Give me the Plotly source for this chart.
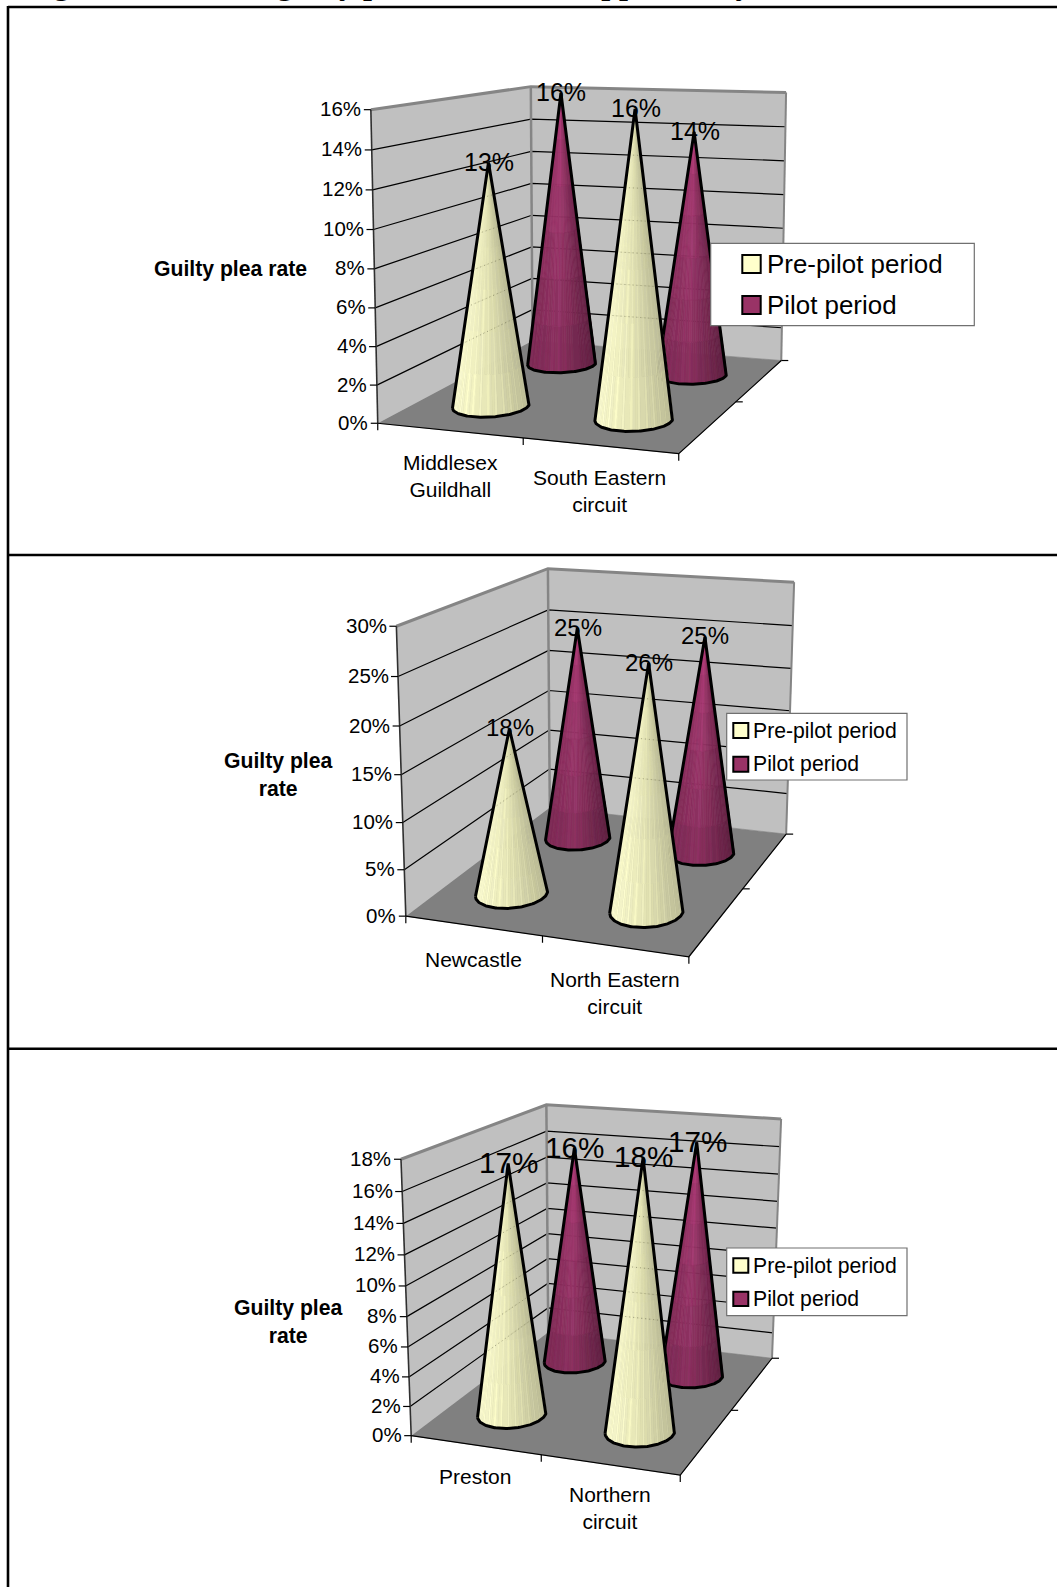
import numpy as np
import plotly.graph_objects as go

# ---- chart values (percent) ----
series_names = ["Pre-pilot period", "Pilot period"]

categories_a = ["Middlesex<br>Guildhall", "South Eastern<br>circuit"]
pre_pilot_a = [13, 16]
pilot_a = [16, 14]
ticks_a = [0, 2, 4, 6, 8, 10, 12, 14, 16]

categories_b = ["Newcastle", "North Eastern<br>circuit"]
pre_pilot_b = [18, 26]
pilot_b = [25, 25]
ticks_b = [0, 5, 10, 15, 20, 25, 30]

categories_c = ["Preston", "Northern<br>circuit"]
pre_pilot_c = [17, 18]
pilot_c = [16, 17]
ticks_c = [0, 2, 4, 6, 8, 10, 12, 14, 16, 18]

heading = "Figure 4: Rates of guilty pleas at the six supported by"
axis_title_a = "Guilty plea rate"
axis_title_wrapped = "Guilty plea<br>rate"

# ---- page layout ----
PAGE_W, PAGE_H = 1057, 1587
SANS = "Liberation Sans"
SERIF = "Liberation Serif"
WALL, FLOOR, EDGE = "#C0C0C0", "#808080", "#858585"
CREAM, PLUM = "#FFFFCC", "#993366"

# Screen anchors of the 3-D box corners, keyed by (category, depth, height) in unit box coordinates.
BOX_UNIT = [(0, 0, 0), (1, 0, 0), (1, 1, 0), (0, 1, 0), (0, 0, 1), (0, 1, 1), (1, 1, 1)]

panels = [
    dict(
        cats=categories_a, pre=pre_pilot_a, pilot=pilot_a, ticks=ticks_a,
        box=[(378.3, 423.3), (678.3, 454), (781.7, 360), (532, 341),
             (370.7, 109.3), (531, 86.7), (786, 92.7)],
        cat_pos=[(450, 475.5), (599.5, 490.5)],
        title=axis_title_a, title_pos=(230.8, 269),
        legend=dict(box=(710.7, 243.3, 974.3, 325.7), sw_x=(742.3, 760.7),
                    sw_y=[(255, 273), (296, 314)], text_x=766, text_y=[264, 304.5], size=25.9),
        label_size=25,
    ),
    dict(
        cats=categories_b, pre=pre_pilot_b, pilot=pilot_b, ticks=ticks_b,
        box=[(406.7, 916.7), (688.3, 956.7), (786.7, 834), (549, 807.3),
             (396, 625.7), (548.3, 569), (794, 582.3)],
        cat_pos=[(473.9, 959), (614.6, 992.7)],
        title=axis_title_wrapped, title_pos=(278, 774),
        legend=dict(box=(726.7, 713.3, 907, 780), sw_x=(733.3, 748.3),
                    sw_y=[(723, 738), (756.7, 771.7)], text_x=752, text_y=[730.5, 764], size=21.2),
        label_size=24,
    ),
    dict(
        cats=categories_c, pre=pre_pilot_c, pilot=pilot_c, ticks=ticks_c,
        box=[(411.7, 1436), (680, 1475), (772.3, 1358.3), (547.7, 1332),
             (400.7, 1159), (546.7, 1105), (781, 1119)],
        cat_pos=[(475.4, 1476.3), (609.5, 1508)],
        title=axis_title_wrapped, title_pos=(288, 1321),
        legend=dict(box=(726.7, 1248, 907, 1315.7), sw_x=(733.3, 748.3),
                    sw_y=[(1258.3, 1272.7), (1291.7, 1306)], text_x=752, text_y=[1265.5, 1299], size=21.2),
        label_size=29.7,
    ),
]

CENTRES = (0.25, 0.75)
RADIUS_X, RADIUS_Y = 0.122, 0.115


def fit_projection(screen):
    """Direct linear fit of a pinhole camera from box corners to page pixels."""
    rows = []
    for (X, Y, Z), (u, v) in zip(BOX_UNIT, screen):
        rows.append([X, Y, Z, 1, 0, 0, 0, 0, -u * X, -u * Y, -u * Z, -u])
        rows.append([0, 0, 0, 0, X, Y, Z, 1, -v * X, -v * Y, -v * Z, -v])
    return np.linalg.svd(np.array(rows, float))[2][-1].reshape(3, 4)


def project(cam, x, y, z):
    h = cam @ np.array([x, y, z, 1.0])
    return h[0] / h[2], h[1] / h[2]


def hull(points):
    """Monotone-chain convex hull, returned in drawing order."""
    pts = sorted(set(points))
    def half(seq):
        out = []
        for p in seq:
            while len(out) > 1 and (out[-1][0]-out[-2][0])*(p[1]-out[-2][1]) - (out[-1][1]-out[-2][1])*(p[0]-out[-2][0]) <= 0:
                out.pop()
            out.append(p)
        return out[:-1]
    return half(pts) + half(pts[::-1])


def clip_segment(a, b, poly):
    """Part of segment a-b inside a convex polygon, or None."""
    a, b = np.array(a), np.array(b)
    d = b - a
    t0, t1 = 0.0, 1.0
    area = sum(poly[i][0] * poly[(i + 1) % len(poly)][1] - poly[(i + 1) % len(poly)][0] * poly[i][1]
               for i in range(len(poly)))
    sign = 1 if area > 0 else -1
    for i in range(len(poly)):
        p, q = np.array(poly[i]), np.array(poly[(i + 1) % len(poly)])
        n = sign * np.array([-(q - p)[1], (q - p)[0]])
        num, den = n @ (a - p), n @ d
        if abs(den) < 1e-9:
            if num < 0:
                return None
        elif den > 0:
            t0 = max(t0, -num / den)
        else:
            t1 = min(t1, -num / den)
    return (tuple(a + d * t0), tuple(a + d * t1)) if t0 < t1 else None


def mix(a, b, t):
    return a + (b - a) * t


def polyline(fig, pts, color, width, dash="solid"):
    fig.add_trace(go.Scatter(x=[p[0] if p else None for p in pts], y=[p[1] if p else None for p in pts],
                             mode="lines", line=dict(color=color, width=width, dash=dash),
                             hoverinfo="skip", showlegend=False))


def polygon(fig, pts, color):
    fig.add_trace(go.Scatter(x=[p[0] for p in pts], y=[p[1] for p in pts], mode="lines", fill="toself",
                             fillcolor=color, line=dict(color=color, width=0.6),
                             hoverinfo="skip", showlegend=False))


SHADES = {
    # (left, centre, right) RGB across the cone, plus brightness from tip to base
    CREAM: (np.array([252, 252, 206.]), np.array([230, 230, 182.]), np.array([188, 188, 150.]), 0.96, 1.0),
    PLUM: (np.array([136, 44, 92.]), np.array([152, 52, 104.]), np.array([104, 34, 70.]), 1.12, 0.88),
}


def add_cone(fig, cam, x, y, height, base_color, grid_segments):
    angles = np.linspace(0, 2 * np.pi, 181)[:-1]
    rim = [project(cam, x + RADIUS_X * np.cos(a), y + RADIUS_Y * np.sin(a), 0) for a in angles]
    tip = project(cam, x, y, height)
    outline = hull(rim + [tip])
    i = outline.index(tip)
    arc = outline[i + 1:] + outline[:i]
    if arc[0][0] > arc[-1][0]:
        arc = arc[::-1]
    arc = arc[::2] + ([arc[-1]] if len(arc) % 2 == 0 else [])

    left, mid, right, tip_gain, base_gain = SHADES[base_color]
    xl, xr = arc[0][0], arc[-1][0]
    groups = {}
    bands = 6
    for s in range(len(arc) - 1):
        p, q = arc[s], arc[s + 1]
        u = ((p[0] + q[0]) / 2 - xl) / (xr - xl)
        col = mix(left, mid, u / 0.45) if u < 0.45 else mix(mid, right, (u - 0.45) / 0.55)
        ripple = 1.05 if s % 3 == 0 else 1.0
        for b in range(bands):
            t0, t1 = b / bands, (b + 1) / bands
            gain = mix(tip_gain, base_gain, (t0 + t1) / 2) * ripple
            rgb = np.clip(np.round(col * gain / 4) * 4, 0, 255).astype(int)
            quad = [mix(np.array(tip), np.array(r), t) for r, t in ((p, t0), (q, t0), (q, t1), (p, t1))]
            groups.setdefault(tuple(rgb), []).append(quad)
    for rgb, quads in groups.items():
        xs, ys = [], []
        for quad in quads:
            xs += [c[0] for c in quad] + [quad[0][0], None]
            ys += [c[1] for c in quad] + [quad[0][1], None]
        color = "rgb(%d,%d,%d)" % rgb
        fig.add_trace(go.Scatter(x=xs, y=ys, mode="lines", fill="toself", fillcolor=color,
                                 line=dict(color=color, width=0.6), hoverinfo="skip", showlegend=False))
    # gridlines faintly showing through the pale cones
    if base_color == CREAM:
        ghost = []
        for a, b in grid_segments:
            part = clip_segment(a, b, outline)
            if part:
                ghost += [part[0], part[1], None]
        if ghost:
            polyline(fig, ghost, "rgba(110,110,80,0.55)", 1, dash="1px,3px")
    polyline(fig, outline + [outline[0]], "black", 3)
    return tip


def text(ann, x, y, s, size, anchor="center", bold=False):
    ann.append(dict(x=x, y=y, xref="x", yref="y", text=f"<b>{s}</b>" if bold else s, showarrow=False,
                    xanchor=anchor, yanchor="middle", align="center",
                    font=dict(family=SANS, size=size, color="black"), borderpad=0))


fig = go.Figure()
annotations, shapes = [], []

for panel in panels:
    cam = fit_projection(panel["box"])
    ticks = panel["ticks"]
    top = ticks[-1]
    corner = lambda x, y, v: project(cam, x, y, v / top)

    # walls and floor
    polygon(fig, [corner(0, 0, 0), corner(0, 1, 0), corner(0, 1, top), corner(0, 0, top)], WALL)
    polygon(fig, [corner(0, 1, 0), corner(1, 1, 0), corner(1, 1, top), corner(0, 1, top)], WALL)
    polygon(fig, [corner(0, 0, 0), corner(1, 0, 0), corner(1, 1, 0), corner(0, 1, 0)], FLOOR)

    # gridlines along both walls
    grid, grid_segments = [], []
    for v in ticks[1:-1]:
        grid += [corner(0, 0, v), corner(0, 1, v), corner(1, 1, v), None]
        grid_segments += [(corner(0, 0, v), corner(0, 1, v)), (corner(0, 1, v), corner(1, 1, v))]
    polyline(fig, grid, "black", 1.2)

    # wall edges
    polyline(fig, [corner(0, 0, top), corner(0, 1, top), corner(1, 1, top)], EDGE, 3)
    polyline(fig, [corner(0, 1, 0), corner(0, 1, top)], EDGE, 2.5)
    polyline(fig, [corner(1, 1, 0), corner(1, 1, top)], EDGE, 2)

    # axes and tick marks
    polyline(fig, [corner(0, 0, 0), corner(0, 0, top)], "#303030", 1.6)
    polyline(fig, [corner(0, 0, 0), corner(1, 0, 0), corner(1, 1, 0)], "black", 1.2)
    marks = []
    for v in ticks:
        px, py = corner(0, 0, v)
        marks += [(px - 7, py), (px, py), None]
        text(annotations, px - 8.5, py - 1, f"{v}%", 20.5, anchor="right")
    for f in (0, 0.5, 1):
        px, py = corner(f, 0, 0)
        marks += [(px, py), (px, py + 7), None]
    for f in (0.5, 1):
        px, py = corner(1, f, 0)
        marks += [(px, py), (px + 7, py), None]
    polyline(fig, marks, "black", 1.2)

    # cones, back row first so the front row overlaps it
    tips = []
    for row, values, shade in ((1, panel["pilot"], PLUM), (0, panel["pre"], CREAM)):
        for c, value in enumerate(values):
            tip = add_cone(fig, cam, CENTRES[c], CENTRES[row], value / top, shade, grid_segments)
            tips.append((tip, value))
    for (tx, ty), value in tips:
        text(annotations, tx + 0.5, ty - 1, f"{value}%", panel["label_size"])

    # category labels and value-axis title
    for label, (lx, ly) in zip(panel["cats"], panel["cat_pos"]):
        text(annotations, lx, ly, label, 21)
    text(annotations, *panel["title_pos"], panel["title"], 21.2, bold=True)

    # legend box
    lg = panel["legend"]
    x0, y0, x1, y1 = lg["box"]
    shapes.append(dict(type="rect", x0=x0, y0=y0, x1=x1, y1=y1, fillcolor="white",
                       line=dict(color="#707070", width=1.2), layer="above"))
    for name, color, (sy0, sy1), ty in zip(series_names, (CREAM, PLUM), lg["sw_y"], lg["text_y"]):
        shapes.append(dict(type="rect", x0=lg["sw_x"][0], x1=lg["sw_x"][1], y0=sy0, y1=sy1, fillcolor=color,
                           line=dict(color="black", width=2), layer="above"))
        text(annotations, lg["text_x"], ty, name, lg["size"], anchor="left")

# panel frame lines
for y in (7, 555, 1048.7):
    shapes.append(dict(type="line", x0=8, x1=PAGE_W, y0=y, y1=y, line=dict(color="black", width=2.6), layer="above"))
shapes.append(dict(type="line", x0=8, x1=8, y0=6, y1=PAGE_H, line=dict(color="black", width=2.6), layer="above"))

# heading runs off the top of the page
annotations.append(dict(x=24 / PAGE_W, y=1, xref="paper", yref="paper", xanchor="left", yanchor="bottom",
                        yshift=-2, text=f"<b>{heading}</b>", showarrow=False, borderpad=0,
                        font=dict(family=SERIF, size=32, color="black")))

fig.update_layout(
    width=PAGE_W, height=PAGE_H, autosize=False, margin=dict(l=0, r=0, t=0, b=0),
    paper_bgcolor="white", plot_bgcolor="white", showlegend=False,
    xaxis=dict(range=[0, PAGE_W], visible=False, fixedrange=True),
    yaxis=dict(range=[PAGE_H, 0], visible=False, fixedrange=True),
    shapes=shapes, annotations=annotations,
)
fig.write_html("out.html")
